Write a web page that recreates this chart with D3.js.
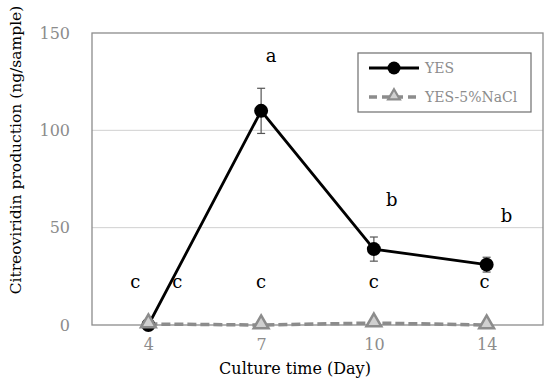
<!DOCTYPE html>
<html>
<head>
<meta charset="utf-8">
<script src="https://cdn.jsdelivr.net/npm/d3@7"></script>
<style>
  body { margin: 0; background: #fff; }
  text { font-family: "DejaVu Serif", "Liberation Serif", serif; }
</style>
</head>
<body>
<svg></svg>
<script>
const width = 550;
const height = 385;

// data
const days = ['4', '7', '10', '14'];
const yesValues = [0, 110, 39, 31];
const yesErrors = [0, 11.6, 6.2, 3.8];
const naclValues = [0.5, 0, 1, 0];
const yTicks = [0, 50, 100, 150];
// significance letters: [day, value position, letter, x shift]
const letters = [
  ['7', 135, 'a', 10],
  ['10', 61, 'b', 18],
  ['14', 53, 'b', 20],
  ['4', 19, 'c', -13],
  ['4', 19, 'c', 29],
  ['7', 19, 'c', 0],
  ['10', 19, 'c', 0],
  ['14', 19, 'c', -2]
];

const margin = { top: 33, right: 7, bottom: 60, left: 92 };

const svg = d3.select('svg')
  .attr('width', width)
  .attr('height', height);

const x = d3.scalePoint()
  .domain(days)
  .range([margin.left, width - margin.right])
  .padding(0.5);

const y = d3.scaleLinear()
  .domain([0, 150])
  .range([height - margin.bottom, margin.top]);

// gridlines
svg.append('g')
  .selectAll('line')
  .data(yTicks.slice(1, -1))
  .join('line')
    .attr('x1', margin.left)
    .attr('x2', width - margin.right)
    .attr('y1', (d) => y(d))
    .attr('y2', (d) => y(d))
    .attr('stroke', '#d0d0d0')
    .attr('stroke-width', 1);

// plot frame
svg.append('rect')
  .attr('x', margin.left)
  .attr('y', margin.top)
  .attr('width', width - margin.right - margin.left)
  .attr('height', y(0) - margin.top)
  .attr('fill', 'none')
  .attr('stroke', '#8c8c8c')
  .attr('stroke-width', 1.3);

// y axis
const yAxis = svg.append('g')
  .attr('transform', `translate(${margin.left},0)`)
  .call(d3.axisLeft(y).tickValues(yTicks).tickSize(0).tickPadding(22));
yAxis.select('.domain').remove();
yAxis.selectAll('text')
  .attr('fill', '#8c8c8c')
  .style('font-size', '16px');

// x axis
const xAxis = svg.append('g')
  .attr('transform', `translate(0,${y(0)})`)
  .call(d3.axisBottom(x).tickSize(0).tickPadding(14));
xAxis.select('.domain').remove();
xAxis.selectAll('text')
  .attr('fill', '#8c8c8c')
  .style('font-size', '16px');

// axis titles
svg.append('text')
  .attr('x', 295)
  .attr('y', 374)
  .attr('text-anchor', 'middle')
  .style('font-size', '16px')
  .text('Culture time (Day)');

svg.append('text')
  .attr('transform', 'translate(21,150) rotate(-90)')
  .attr('text-anchor', 'middle')
  .style('font-size', '15.5px')
  .text('Citreoviridin production (ng/sample)');

// NaCl series (dashed, triangles)
const triangle = d3.symbol().type(d3.symbolTriangle).size(95);

svg.append('path')
  .datum(naclValues)
  .attr('fill', 'none')
  .attr('stroke', '#8c8c8c')
  .attr('stroke-width', 3.5)
  .attr('stroke-dasharray', '9,4')
  .attr('d', d3.line().x((d, i) => x(days[i])).y((d) => y(d)));

// YES series
svg.append('path')
  .datum(yesValues)
  .attr('fill', 'none')
  .attr('stroke', '#000')
  .attr('stroke-width', 2.8)
  .attr('d', d3.line().x((d, i) => x(days[i])).y((d) => y(d)));

// error bars
const err = svg.append('g')
  .selectAll('g')
  .data(yesValues.map((v, i) => ({ day: days[i], v, e: yesErrors[i] })).filter((d) => d.e > 0))
  .join('g')
    .attr('stroke', '#555')
    .attr('stroke-width', 1.2);
err.append('line')
  .attr('x1', (d) => x(d.day)).attr('x2', (d) => x(d.day))
  .attr('y1', (d) => y(d.v + d.e)).attr('y2', (d) => y(d.v - d.e));
err.append('line')
  .attr('x1', (d) => x(d.day) - 4).attr('x2', (d) => x(d.day) + 4)
  .attr('y1', (d) => y(d.v + d.e)).attr('y2', (d) => y(d.v + d.e));
err.append('line')
  .attr('x1', (d) => x(d.day) - 4).attr('x2', (d) => x(d.day) + 4)
  .attr('y1', (d) => y(d.v - d.e)).attr('y2', (d) => y(d.v - d.e));

svg.append('g')
  .selectAll('circle')
  .data(yesValues)
  .join('circle')
    .attr('cx', (d, i) => x(days[i]))
    .attr('cy', (d) => y(d))
    .attr('r', 7)
    .attr('fill', '#000');

svg.append('g')
  .selectAll('path')
  .data(naclValues)
  .join('path')
    .attr('d', triangle)
    .attr('transform', (d, i) => `translate(${x(days[i])},${y(d) - 1})`)
    .attr('fill', '#d0d0d0')
    .attr('stroke', '#8c8c8c')
    .attr('stroke-width', 2.5);

// letters
svg.append('g')
  .selectAll('text')
  .data(letters)
  .join('text')
    .attr('x', (d) => x(d[0]) + d[3])
    .attr('y', (d) => y(d[1]))
    .attr('text-anchor', 'middle')
    .style('font-size', '18px')
    .text((d) => d[2]);

// legend
const legend = svg.append('g').attr('transform', 'translate(358,53)');
legend.append('rect')
  .attr('width', 173)
  .attr('height', 59)
  .attr('fill', '#fff')
  .attr('stroke', '#6e6e6e')
  .attr('stroke-width', 1.2);

const l1 = legend.append('g').attr('transform', 'translate(0,15)');
l1.append('line').attr('x1', 11).attr('x2', 61)
  .attr('stroke', '#000').attr('stroke-width', 2.8);
l1.append('circle').attr('cx', 36).attr('r', 6.5).attr('fill', '#000');
l1.append('text').attr('x', 67).attr('y', 5)
  .attr('fill', '#8c8c8c').style('font-size', '14px').text('YES');

const l2 = legend.append('g').attr('transform', 'translate(0,44)');
l2.append('line').attr('x1', 11).attr('x2', 61)
  .attr('stroke', '#8c8c8c').attr('stroke-width', 3.5).attr('stroke-dasharray', '8,5');
l2.append('path').attr('d', d3.symbol().type(d3.symbolTriangle).size(60))
  .attr('transform', 'translate(36,-1)')
  .attr('fill', '#d0d0d0').attr('stroke', '#8c8c8c').attr('stroke-width', 2.2);
l2.append('text').attr('x', 67).attr('y', 5)
  .attr('fill', '#8c8c8c').style('font-size', '14px').text('YES-5%NaCl');
</script>
</body>
</html>
